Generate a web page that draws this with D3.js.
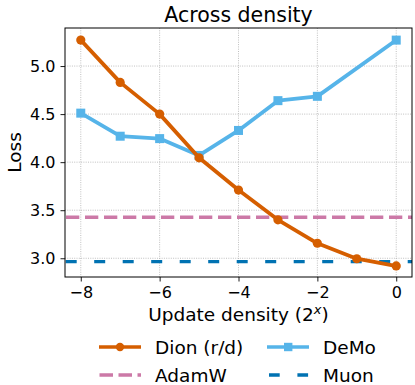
<!DOCTYPE html>
<html>
<head>
<meta charset="utf-8">
<script src="https://cdn.jsdelivr.net/npm/d3@7"></script>
<style>
  html, body { margin: 0; padding: 0; background: #fff; }
  svg { display: block; font-family: "DejaVu Sans", sans-serif; }
</style>
</head>
<body>
<svg id="chart" width="415" height="385"></svg>
<script>
// ---- Data ----
const dionX = [-8, -7, -6, -5, -4, -3, -2, -1, 0];
const dionLoss = [5.27, 4.83, 4.50, 4.045, 3.71, 3.40, 3.156, 2.995, 2.92];
const demoX = [-8, -7, -6, -5, -4, -3, -2, 0];
const demoLoss = [4.51, 4.27, 4.245, 4.07, 4.33, 4.64, 4.685, 5.27];
const adamwLoss = 3.427;
const muonLoss = 2.965;
const xTicks = [-8, -6, -4, -2, 0];
const yTicks = [3.0, 3.5, 4.0, 4.5, 5.0];
const seriesNames = ["Dion (r/d)", "DeMo", "AdamW", "Muon"];
const colors = { dion: "#d55e00", demo: "#56b4e9", adamw: "#cc79a7", muon: "#0072b2" };

// ---- Layout ----
const svg = d3.select("#chart");
const L = 65, R = 412, T = 28, B = 277;
const x = d3.scaleLinear().domain([-8.4, 0.4]).range([L, R]);
const y = d3.scaleLinear().domain([2.805, 5.396]).range([B, T]);

const defs = svg.append("defs");
defs.append("clipPath").attr("id", "clip")
  .append("rect").attr("x", L).attr("y", T).attr("width", R - L).attr("height", B - T);

// grid
const grid = svg.append("g");
grid.selectAll(".gx").data(xTicks).enter().append("line")
  .attr("x1", d => x(d)).attr("x2", d => x(d)).attr("y1", T).attr("y2", B)
  .attr("stroke", "#b0b0b0").attr("stroke-width", 0.8).attr("stroke-dasharray", "1,1.3");
grid.selectAll(".gy").data(yTicks).enter().append("line")
  .attr("y1", d => y(d)).attr("y2", d => y(d)).attr("x1", L).attr("x2", R)
  .attr("stroke", "#b0b0b0").attr("stroke-width", 0.8).attr("stroke-dasharray", "1,1.3");

// axes
const xAxis = d3.axisBottom(x).tickValues(xTicks).tickSize(4.5).tickPadding(5)
  .tickFormat(d => d < 0 ? "\u2212" + Math.abs(d) : String(d));
const yAxis = d3.axisLeft(y).tickValues(yTicks).tickSize(4.5).tickPadding(5)
  .tickFormat(d3.format(".1f"));

const gx = svg.append("g").attr("transform", `translate(0,${B})`).call(xAxis);
const gy = svg.append("g").attr("transform", `translate(${L},0)`).call(yAxis);
[gx, gy].forEach(g => {
  g.select(".domain").remove();
  g.selectAll("text").attr("font-size", 16).attr("fill", "#000").attr("font-family", "DejaVu Sans");
  g.selectAll("line").attr("stroke", "#000").attr("stroke-width", 0.9);
});

const plot = svg.append("g").attr("clip-path", "url(#clip)");

// reference lines
plot.append("line").attr("x1", L).attr("x2", R)
  .attr("y1", y(adamwLoss)).attr("y2", y(adamwLoss))
  .attr("stroke", colors.adamw).attr("stroke-width", 3.4)
  .attr("stroke-dasharray", "13.3,5.7").attr("stroke-dashoffset", -1);
plot.append("line").attr("x1", L).attr("x2", R)
  .attr("y1", y(muonLoss)).attr("y2", y(muonLoss))
  .attr("stroke", colors.muon).attr("stroke-width", 3.4)
  .attr("stroke-dasharray", "11,17.5").attr("stroke-dashoffset", -0.7);

const line = d3.line().x(d => x(d[0])).y(d => y(d[1]));

// DeMo
const demoData = demoX.map((v, i) => [v, demoLoss[i]]);
plot.append("path").datum(demoData).attr("d", line)
  .attr("fill", "none").attr("stroke", colors.demo).attr("stroke-width", 3.8)
  .attr("stroke-linejoin", "round").attr("stroke-linecap", "square");
plot.selectAll(".demoPt").data(demoData).enter().append("rect")
  .attr("x", d => x(d[0]) - 4.5).attr("y", d => y(d[1]) - 4.5)
  .attr("width", 9).attr("height", 9).attr("fill", colors.demo);

// Dion
const dionData = dionX.map((v, i) => [v, dionLoss[i]]);
plot.append("path").datum(dionData).attr("d", line)
  .attr("fill", "none").attr("stroke", colors.dion).attr("stroke-width", 3.8)
  .attr("stroke-linejoin", "round").attr("stroke-linecap", "square");
plot.selectAll(".dionPt").data(dionData).enter().append("circle")
  .attr("cx", d => x(d[0])).attr("cy", d => y(d[1])).attr("r", 4.6)
  .attr("fill", colors.dion);

// frame
svg.append("rect").attr("x", L).attr("y", T).attr("width", R - L).attr("height", B - T)
  .attr("fill", "none").attr("stroke", "#000").attr("stroke-width", 1);

// title and labels
svg.append("text").attr("x", (L + R) / 2).attr("y", 21.5).attr("text-anchor", "middle")
  .attr("font-size", 20.5).text("Across density");

const xl = svg.append("text").attr("x", (L + R) / 2).attr("y", 321).attr("text-anchor", "middle")
  .attr("font-size", 18.5);
xl.append("tspan").text("Update density (2");
xl.append("tspan").attr("font-size", 13).attr("dy", -7).attr("font-style", "italic").text("x");
xl.append("tspan").attr("dy", 7).text(")");

svg.append("text").attr("transform", `translate(21,${(T + B) / 2}) rotate(-90)`)
  .attr("text-anchor", "middle").attr("font-size", 18.5).text("Loss");

// legend
const leg = svg.append("g");
const items = [
  { name: seriesNames[0], color: colors.dion, x: 99, y: 347, type: "circle" },
  { name: seriesNames[1], color: colors.demo, x: 267, y: 347, type: "square" },
  { name: seriesNames[2], color: colors.adamw, x: 99, y: 375, type: "adamw" },
  { name: seriesNames[3], color: colors.muon, x: 267, y: 375, type: "muon" }
];
items.forEach(it => {
  const g = leg.append("g");
  const ln = g.append("line").attr("x1", it.x).attr("x2", it.x + 42)
    .attr("y1", it.y).attr("y2", it.y).attr("stroke", it.color).attr("stroke-width", 3.6);
  if (it.type === "circle") {
    g.append("circle").attr("cx", it.x + 21).attr("cy", it.y).attr("r", 4.2).attr("fill", it.color);
  } else if (it.type === "square") {
    g.append("rect").attr("x", it.x + 17).attr("y", it.y - 4.2).attr("width", 8.4).attr("height", 8.4).attr("fill", it.color);
  } else if (it.type === "adamw") {
    ln.attr("stroke-dasharray", "13.5,5.5").attr("stroke-dashoffset", -0.5);
  } else {
    ln.attr("x1", it.x + 2).attr("stroke-dasharray", "10.7,17.7");
  }
  g.append("text").attr("x", it.x + 56).attr("y", it.y + 6.6)
    .attr("font-size", 18.5).text(it.name);
});
</script>
</body>
</html>
